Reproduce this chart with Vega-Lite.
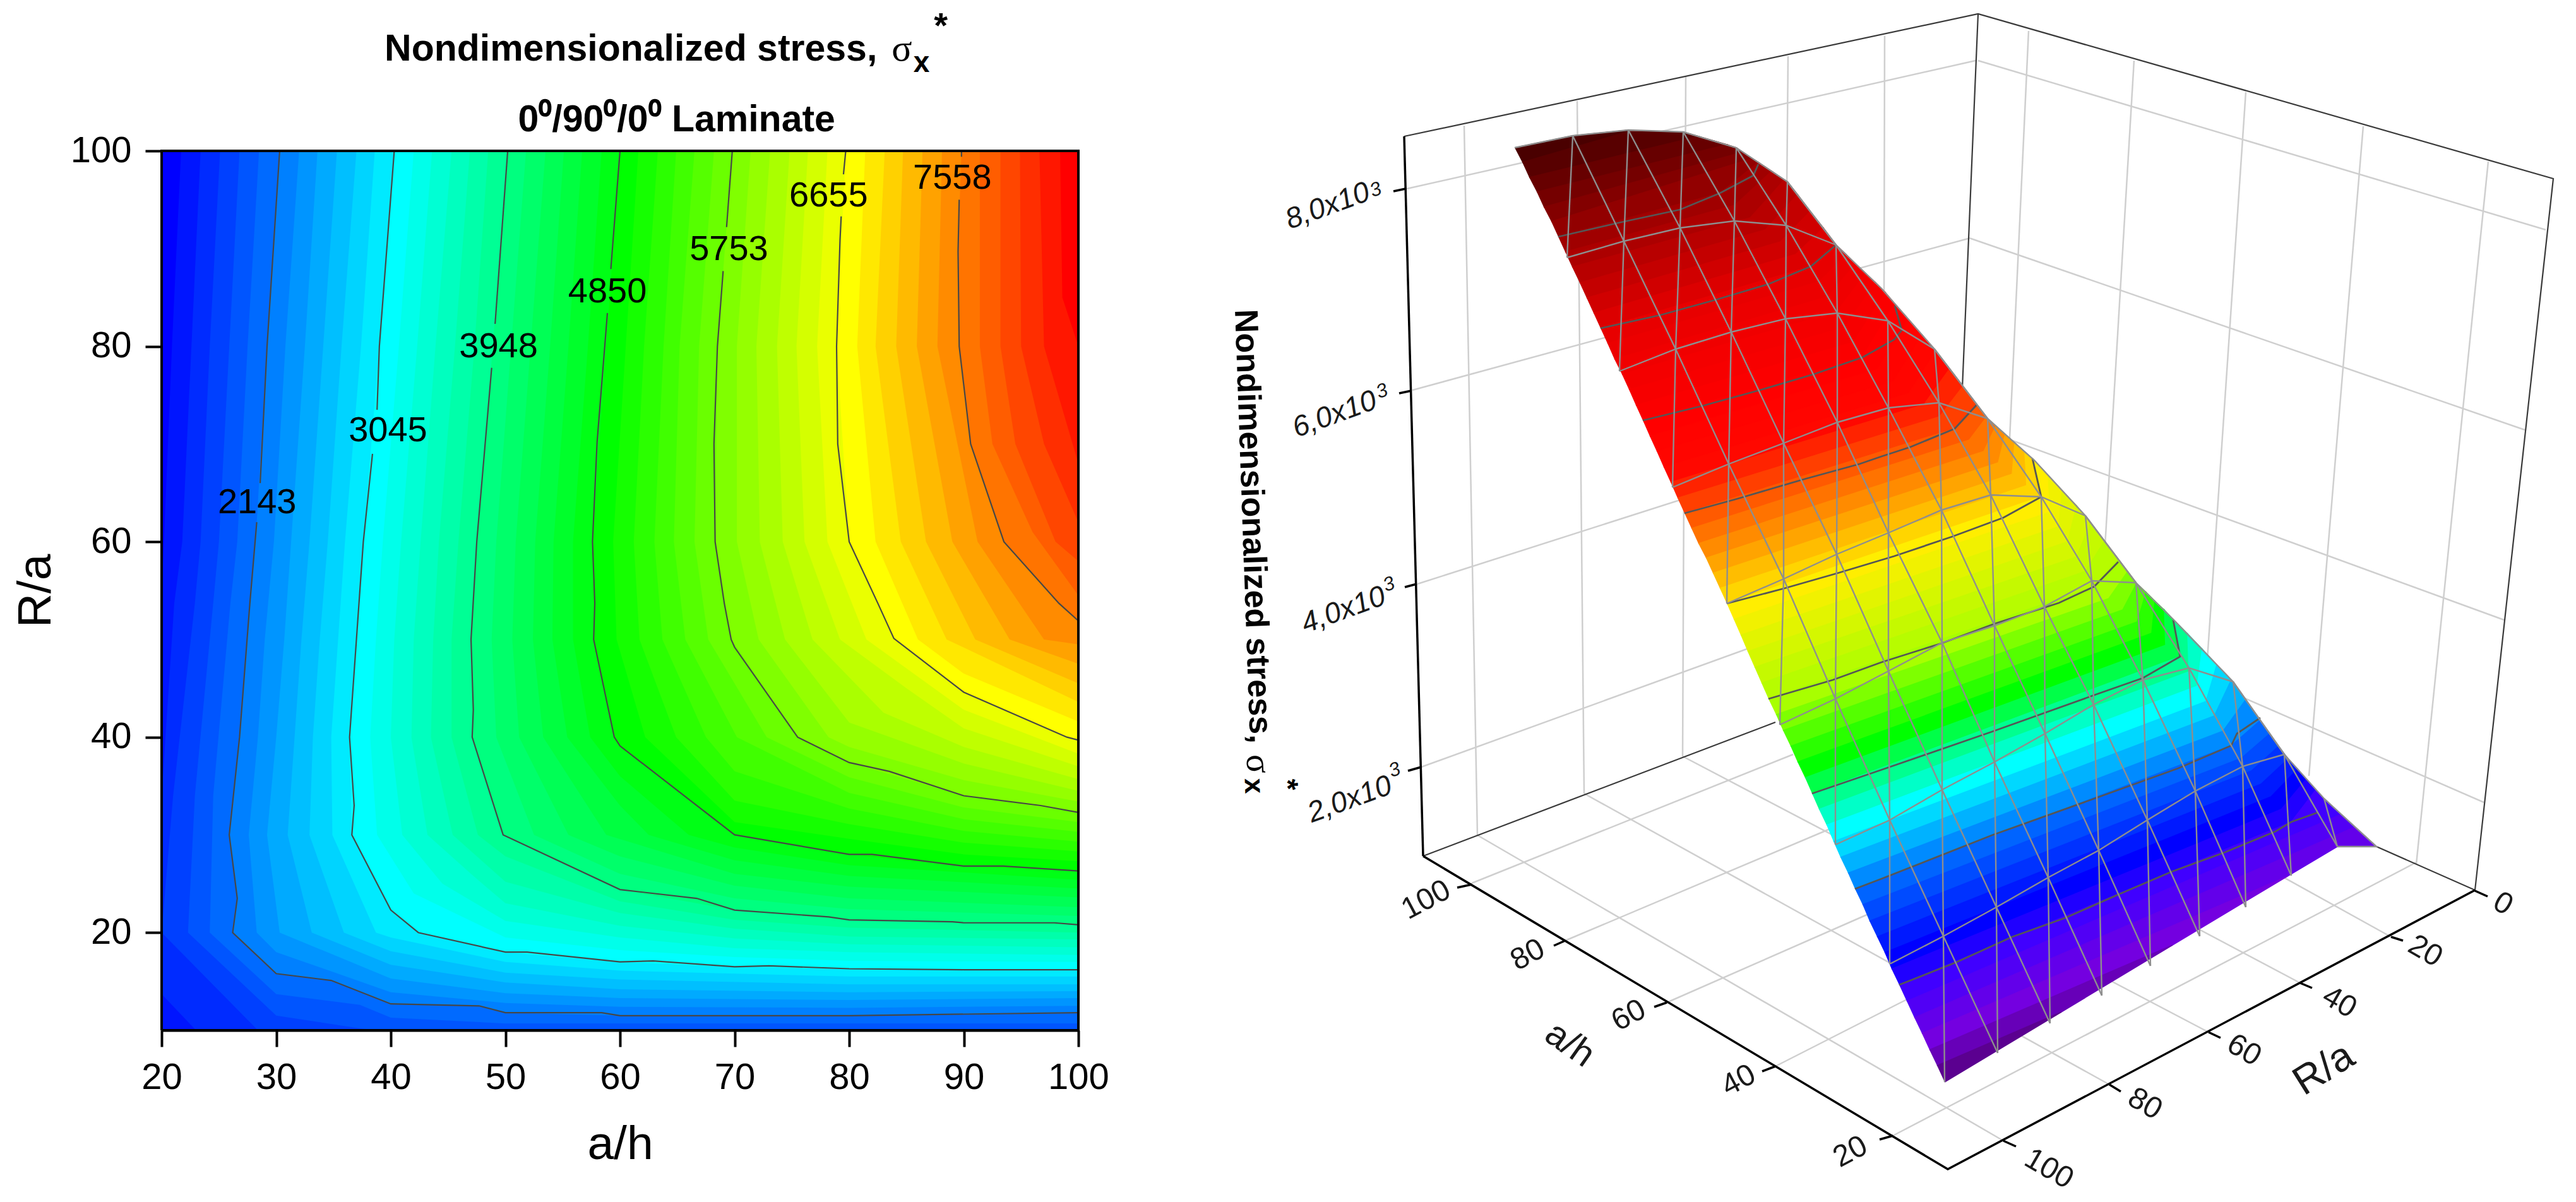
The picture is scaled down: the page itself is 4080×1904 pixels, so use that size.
{"$schema":"https://vega.github.io/schema/vega-lite/v6.json","background":"white","padding":{"left":19,"top":14,"right":0,"bottom":0},"spacing":43,"config":{"view":{"stroke":null},"font":"Liberation Sans"},
"resolve":{"scale":{"fill":"independent","stroke":"independent"}},
"datasets":{
"bands":[
{"l":1240,"a":20,"r":10},{"l":1240,"a":20,"r":100},{"l":1240,"a":100,"r":100},{"l":1240,"a":100,"r":10},
{"l":1390,"a":21.7,"r":100},{"l":1390,"a":20.9,"r":80},{"l":1390,"a":20.2,"r":60},{"l":1390,"a":20,"r":55},{"l":1390,"a":20,"r":10},{"l":1390,"a":100,"r":10},{"l":1390,"a":100,"r":100},
{"l":1541,"a":23.4,"r":100},{"l":1541,"a":22.6,"r":80},{"l":1541,"a":21.8,"r":60},{"l":1541,"a":21.1,"r":53.7},{"l":1541,"a":20,"r":34},{"l":1541,"a":20,"r":13.7},{"l":1541,"a":23,"r":10},{"l":1541,"a":100,"r":10},{"l":1541,"a":100,"r":100},
{"l":1691,"a":25.1,"r":100},{"l":1691,"a":24.2,"r":80},{"l":1691,"a":23.4,"r":60},{"l":1691,"a":22.9,"r":53.7},{"l":1691,"a":21,"r":34},{"l":1691,"a":20,"r":20},{"l":1691,"a":28.4,"r":10},{"l":1691,"a":100,"r":10},{"l":1691,"a":100,"r":100},
{"l":1842,"a":26.8,"r":100},{"l":1842,"a":25.9,"r":80},{"l":1842,"a":25,"r":60},{"l":1842,"a":24.5,"r":53.7},{"l":1842,"a":22.9,"r":34},{"l":1842,"a":22.3,"r":20},{"l":1842,"a":30,"r":11.5},{"l":1842,"a":37.3,"r":10.2},{"l":1842,"a":39,"r":10},{"l":1842,"a":100,"r":10},{"l":1842,"a":100,"r":100},
{"l":1992,"a":28.5,"r":100},{"l":1992,"a":27.5,"r":80},{"l":1992,"a":26.6,"r":60},{"l":1992,"a":26,"r":53.7},{"l":1992,"a":24.5,"r":34},{"l":1992,"a":24.2,"r":20},{"l":1992,"a":30,"r":13.7},{"l":1992,"a":37.3,"r":12.6},{"l":1992,"a":40,"r":11.3},{"l":1992,"a":50,"r":10.7},{"l":1992,"a":100,"r":10.7},{"l":1992,"a":100,"r":100},
{"l":2143,"a":30.3,"r":100},{"l":2143,"a":29.2,"r":80},{"l":2143,"a":28.2,"r":60},{"l":2143,"a":27.7,"r":53.7},{"l":2143,"a":26.8,"r":40},{"l":2143,"a":25.9,"r":30},{"l":2143,"a":26.6,"r":23.5},{"l":2143,"a":26.2,"r":20},{"l":2143,"a":30,"r":15.8},{"l":2143,"a":34.8,"r":15.1},{"l":2143,"a":40,"r":12.7},{"l":2143,"a":47.7,"r":12.5},{"l":2143,"a":50,"r":11.8},{"l":2143,"a":60,"r":11.5},{"l":2143,"a":80,"r":11.5},{"l":2143,"a":100,"r":11.8},{"l":2143,"a":100,"r":100},
{"l":2293,"a":32,"r":100},{"l":2293,"a":30.8,"r":80},{"l":2293,"a":29.8,"r":60},{"l":2293,"a":29,"r":50},{"l":2293,"a":28.4,"r":40},{"l":2293,"a":27.6,"r":30},{"l":2293,"a":28.3,"r":20},{"l":2293,"a":30,"r":18},{"l":2293,"a":40,"r":13.9},{"l":2293,"a":50,"r":12.8},{"l":2293,"a":60,"r":12.4},{"l":2293,"a":80,"r":12.3},{"l":2293,"a":100,"r":12.5},{"l":2293,"a":100,"r":100},
{"l":2443,"a":33.6,"r":100},{"l":2443,"a":32.5,"r":80},{"l":2443,"a":31.3,"r":60},{"l":2443,"a":30.7,"r":50},{"l":2443,"a":30,"r":40},{"l":2443,"a":29.2,"r":30},{"l":2443,"a":30.3,"r":20},{"l":2443,"a":40,"r":15.3},{"l":2443,"a":50,"r":13.8},{"l":2443,"a":60,"r":13.3},{"l":2443,"a":80,"r":13.1},{"l":2443,"a":100,"r":13.3},{"l":2443,"a":100,"r":100},
{"l":2594,"a":35.3,"r":100},{"l":2594,"a":34.1,"r":80},{"l":2594,"a":32.9,"r":60},{"l":2594,"a":32.2,"r":50},{"l":2594,"a":31.6,"r":40},{"l":2594,"a":31,"r":30},{"l":2594,"a":33.1,"r":20},{"l":2594,"a":40,"r":16.7},{"l":2594,"a":50,"r":14.9},{"l":2594,"a":60,"r":14.2},{"l":2594,"a":80,"r":13.9},{"l":2594,"a":100,"r":14},{"l":2594,"a":100,"r":100},
{"l":2744,"a":37,"r":100},{"l":2744,"a":35.7,"r":80},{"l":2744,"a":34.5,"r":60},{"l":2744,"a":33.8,"r":50},{"l":2744,"a":33.2,"r":40},{"l":2744,"a":32.9,"r":30},{"l":2744,"a":35.9,"r":20},{"l":2744,"a":40,"r":18.1},{"l":2744,"a":50,"r":15.9},{"l":2744,"a":60,"r":15.2},{"l":2744,"a":80,"r":14.7},{"l":2744,"a":100,"r":14.7},{"l":2744,"a":100,"r":100},
{"l":2895,"a":38.6,"r":100},{"l":2895,"a":37.4,"r":80},{"l":2895,"a":36,"r":60},{"l":2895,"a":35.4,"r":50},{"l":2895,"a":34.8,"r":40},{"l":2895,"a":34.9,"r":30},{"l":2895,"a":38.7,"r":20},{"l":2895,"a":40,"r":19.5},{"l":2895,"a":50,"r":17},{"l":2895,"a":60,"r":16.1},{"l":2895,"a":80,"r":15.5},{"l":2895,"a":100,"r":15.5},{"l":2895,"a":100,"r":100},
{"l":3045,"a":40.3,"r":100},{"l":3045,"a":39,"r":80},{"l":3045,"a":37.6,"r":60},{"l":3045,"a":37,"r":50},{"l":3045,"a":36.4,"r":40},{"l":3045,"a":36.6,"r":30},{"l":3045,"a":40,"r":22.3},{"l":3045,"a":42.4,"r":20},{"l":3045,"a":50,"r":18},{"l":3045,"a":60,"r":17},{"l":3045,"a":70,"r":16.5},{"l":3045,"a":80,"r":16.3},{"l":3045,"a":100,"r":16.2},{"l":3045,"a":100,"r":100},
{"l":3195,"a":42,"r":100},{"l":3195,"a":40.7,"r":80},{"l":3195,"a":39.3,"r":60},{"l":3195,"a":38.7,"r":50},{"l":3195,"a":38.2,"r":40},{"l":3195,"a":38.8,"r":30},{"l":3195,"a":42,"r":24},{"l":3195,"a":50,"r":19.5},{"l":3195,"a":60,"r":18.2},{"l":3195,"a":70,"r":17.5},{"l":3195,"a":80,"r":17.1},{"l":3195,"a":100,"r":17},{"l":3195,"a":100,"r":100},
{"l":3346,"a":43.6,"r":100},{"l":3346,"a":42.3,"r":80},{"l":3346,"a":40.9,"r":60},{"l":3346,"a":40.3,"r":50},{"l":3346,"a":40,"r":40},{"l":3346,"a":41,"r":30},{"l":3346,"a":44.5,"r":25},{"l":3346,"a":50,"r":21.2},{"l":3346,"a":60,"r":19.5},{"l":3346,"a":70,"r":18.4},{"l":3346,"a":80,"r":18},{"l":3346,"a":100,"r":17.7},{"l":3346,"a":100,"r":100},
{"l":3496,"a":45.3,"r":100},{"l":3496,"a":43.9,"r":80},{"l":3496,"a":42.6,"r":60},{"l":3496,"a":42,"r":50},{"l":3496,"a":41.8,"r":40},{"l":3496,"a":43.2,"r":30},{"l":3496,"a":47,"r":26},{"l":3496,"a":50,"r":23},{"l":3496,"a":60,"r":20.7},{"l":3496,"a":70,"r":19.4},{"l":3496,"a":80,"r":18.8},{"l":3496,"a":100,"r":18.5},{"l":3496,"a":100,"r":100},
{"l":3647,"a":46.9,"r":100},{"l":3647,"a":45.6,"r":80},{"l":3647,"a":44.2,"r":60},{"l":3647,"a":43.7,"r":50},{"l":3647,"a":43.5,"r":40},{"l":3647,"a":45.4,"r":30},{"l":3647,"a":50,"r":25.2},{"l":3647,"a":60,"r":22},{"l":3647,"a":70,"r":20.4},{"l":3647,"a":80,"r":19.6},{"l":3647,"a":100,"r":19.3},{"l":3647,"a":100,"r":100},
{"l":3797,"a":48.5,"r":100},{"l":3797,"a":47.3,"r":80},{"l":3797,"a":45.9,"r":60},{"l":3797,"a":45.3,"r":50},{"l":3797,"a":45.3,"r":40},{"l":3797,"a":47.6,"r":30},{"l":3797,"a":50,"r":27.8},{"l":3797,"a":60,"r":23.2},{"l":3797,"a":70,"r":21.3},{"l":3797,"a":80,"r":20.5},{"l":3797,"a":100,"r":20},{"l":3797,"a":100,"r":100},
{"l":3948,"a":50.2,"r":100},{"l":3948,"a":48.9,"r":80},{"l":3948,"a":47.5,"r":60},{"l":3948,"a":47,"r":50},{"l":3948,"a":47.1,"r":40},{"l":3948,"a":49.8,"r":30},{"l":3948,"a":60,"r":24.4},{"l":3948,"a":70,"r":22.3},{"l":3948,"a":80,"r":21.3},{"l":3948,"a":90,"r":21},{"l":3948,"a":100,"r":20.8},{"l":3948,"a":100,"r":100},
{"l":4098,"a":51.8,"r":100},{"l":4098,"a":50.5,"r":80},{"l":4098,"a":49.2,"r":60},{"l":4098,"a":48.8,"r":50},{"l":4098,"a":49.2,"r":40},{"l":4098,"a":52.5,"r":30},{"l":4098,"a":60,"r":26},{"l":4098,"a":70,"r":23.5},{"l":4098,"a":80,"r":22.4},{"l":4098,"a":100,"r":21.7},{"l":4098,"a":100,"r":100},
{"l":4248,"a":53.5,"r":100},{"l":4248,"a":52.2,"r":80},{"l":4248,"a":50.9,"r":60},{"l":4248,"a":50.6,"r":50},{"l":4248,"a":51.2,"r":40},{"l":4248,"a":55.5,"r":30},{"l":4248,"a":60,"r":27.8},{"l":4248,"a":70,"r":24.8},{"l":4248,"a":80,"r":23.5},{"l":4248,"a":100,"r":22.6},{"l":4248,"a":100,"r":100},
{"l":4399,"a":55.1,"r":100},{"l":4399,"a":53.9,"r":80},{"l":4399,"a":52.6,"r":60},{"l":4399,"a":52.4,"r":50},{"l":4399,"a":53.3,"r":40},{"l":4399,"a":58.8,"r":30},{"l":4399,"a":70,"r":26},{"l":4399,"a":80,"r":24.7},{"l":4399,"a":100,"r":23.6},{"l":4399,"a":100,"r":100},
{"l":4549,"a":56.7,"r":100},{"l":4549,"a":55.5,"r":80},{"l":4549,"a":54.2,"r":60},{"l":4549,"a":54.1,"r":50},{"l":4549,"a":55.4,"r":40},{"l":4549,"a":60,"r":33},{"l":4549,"a":62.5,"r":30},{"l":4549,"a":70,"r":27.4},{"l":4549,"a":80,"r":25.8},{"l":4549,"a":100,"r":24.5},{"l":4549,"a":100,"r":100},
{"l":4700,"a":58.4,"r":100},{"l":4700,"a":57.2,"r":80},{"l":4700,"a":55.9,"r":60},{"l":4700,"a":55.9,"r":50},{"l":4700,"a":57.4,"r":40},{"l":4700,"a":60,"r":36},{"l":4700,"a":66,"r":30},{"l":4700,"a":70,"r":28.7},{"l":4700,"a":80,"r":26.9},{"l":4700,"a":100,"r":25.4},{"l":4700,"a":100,"r":100},
{"l":4850,"a":60,"r":100},{"l":4850,"a":58.8,"r":80},{"l":4850,"a":57.6,"r":60},{"l":4850,"a":57.7,"r":50},{"l":4850,"a":59.5,"r":40},{"l":4850,"a":60,"r":39},{"l":4850,"a":70,"r":30},{"l":4850,"a":80,"r":28},{"l":4850,"a":90,"r":26.8},{"l":4850,"a":100,"r":26.3},{"l":4850,"a":100,"r":100},
{"l":5000,"a":61.6,"r":100},{"l":5000,"a":60.5,"r":80},{"l":5000,"a":59.4,"r":60},{"l":5000,"a":59.7,"r":50},{"l":5000,"a":62.2,"r":40},{"l":5000,"a":70,"r":31.3},{"l":5000,"a":80,"r":29.6},{"l":5000,"a":90,"r":28},{"l":5000,"a":100,"r":27.3},{"l":5000,"a":100,"r":100},
{"l":5151,"a":63.3,"r":100},{"l":5151,"a":62.1,"r":80},{"l":5151,"a":61.2,"r":60},{"l":5151,"a":61.7,"r":50},{"l":5151,"a":64.9,"r":40},{"l":5151,"a":70,"r":33.5},{"l":5151,"a":80,"r":31.1},{"l":5151,"a":90,"r":29.2},{"l":5151,"a":100,"r":28.3},{"l":5151,"a":100,"r":100},
{"l":5301,"a":64.9,"r":100},{"l":5301,"a":63.8,"r":80},{"l":5301,"a":63,"r":60},{"l":5301,"a":63.7,"r":50},{"l":5301,"a":67.5,"r":40},{"l":5301,"a":70,"r":36.5},{"l":5301,"a":80,"r":32.7},{"l":5301,"a":90,"r":30.4},{"l":5301,"a":100,"r":29.3},{"l":5301,"a":100,"r":100},
{"l":5452,"a":66.5,"r":100},{"l":5452,"a":65.2,"r":80},{"l":5452,"a":64.7,"r":60},{"l":5452,"a":65.7,"r":50},{"l":5452,"a":70.2,"r":40},{"l":5452,"a":80,"r":34.3},{"l":5452,"a":90,"r":31.6},{"l":5452,"a":100,"r":30.3},{"l":5452,"a":100,"r":100},
{"l":5602,"a":68.2,"r":100},{"l":5602,"a":66.9,"r":80},{"l":5602,"a":66.5,"r":60},{"l":5602,"a":67.7,"r":50},{"l":5602,"a":72.8,"r":40},{"l":5602,"a":80,"r":35.9},{"l":5602,"a":90,"r":32.8},{"l":5602,"a":100,"r":31.3},{"l":5602,"a":100,"r":100},
{"l":5753,"a":69.8,"r":100},{"l":5753,"a":68.5,"r":80},{"l":5753,"a":68.3,"r":60},{"l":5753,"a":69.7,"r":50},{"l":5753,"a":75.5,"r":40},{"l":5753,"a":80,"r":37.4},{"l":5753,"a":90,"r":34},{"l":5753,"a":100,"r":32.3},{"l":5753,"a":100,"r":100},
{"l":5903,"a":71.4,"r":100},{"l":5903,"a":70.2,"r":80},{"l":5903,"a":70.2,"r":60},{"l":5903,"a":72.1,"r":50},{"l":5903,"a":78.2,"r":40},{"l":5903,"a":80,"r":39},{"l":5903,"a":90,"r":35.6},{"l":5903,"a":100,"r":33.4},{"l":5903,"a":100,"r":100},
{"l":6053,"a":73.1,"r":100},{"l":6053,"a":71.9,"r":80},{"l":6053,"a":72.2,"r":60},{"l":6053,"a":74.4,"r":50},{"l":6053,"a":80,"r":41.5},{"l":6053,"a":90,"r":37.3},{"l":6053,"a":100,"r":34.5},{"l":6053,"a":100,"r":100},
{"l":6204,"a":74.8,"r":100},{"l":6204,"a":73.7,"r":80},{"l":6204,"a":74.2,"r":60},{"l":6204,"a":76.8,"r":50},{"l":6204,"a":83,"r":42.5},{"l":6204,"a":90,"r":39},{"l":6204,"a":100,"r":35.7},{"l":6204,"a":100,"r":100},
{"l":6354,"a":76.4,"r":100},{"l":6354,"a":75.4,"r":80},{"l":6354,"a":76.1,"r":60},{"l":6354,"a":79.2,"r":50},{"l":6354,"a":85,"r":45},{"l":6354,"a":90,"r":40.9},{"l":6354,"a":100,"r":37},{"l":6354,"a":100,"r":100},
{"l":6505,"a":78.1,"r":100},{"l":6505,"a":77.2,"r":80},{"l":6505,"a":78.1,"r":60},{"l":6505,"a":81.5,"r":50},{"l":6505,"a":90,"r":42.8},{"l":6505,"a":100,"r":38.3},{"l":6505,"a":100,"r":100},
{"l":6655,"a":79.7,"r":100},{"l":6655,"a":78.9,"r":80},{"l":6655,"a":80,"r":60},{"l":6655,"a":83.9,"r":50},{"l":6655,"a":90,"r":44.6},{"l":6655,"a":99,"r":40},{"l":6655,"a":100,"r":39.7},{"l":6655,"a":100,"r":100},
{"l":6805,"a":81.4,"r":100},{"l":6805,"a":80.7,"r":80},{"l":6805,"a":82.3,"r":60},{"l":6805,"a":86,"r":50},{"l":6805,"a":90,"r":46.5},{"l":6805,"a":100,"r":41.6},{"l":6805,"a":100,"r":100},
{"l":6956,"a":83.1,"r":100},{"l":6956,"a":82.3,"r":80},{"l":6956,"a":84.5,"r":60},{"l":6956,"a":88.5,"r":50},{"l":6956,"a":100,"r":43.6},{"l":6956,"a":100,"r":100},
{"l":7106,"a":84.7,"r":100},{"l":7106,"a":84.1,"r":80},{"l":7106,"a":86.7,"r":60},{"l":7106,"a":91,"r":50},{"l":7106,"a":100,"r":45.5},{"l":7106,"a":100,"r":100},
{"l":7257,"a":86.4,"r":100},{"l":7257,"a":85.9,"r":80},{"l":7257,"a":89,"r":60},{"l":7257,"a":94,"r":50},{"l":7257,"a":100,"r":47.5},{"l":7257,"a":100,"r":100},
{"l":7407,"a":88.1,"r":100},{"l":7407,"a":87.7,"r":80},{"l":7407,"a":91.2,"r":60},{"l":7407,"a":97,"r":50},{"l":7407,"a":100,"r":49.5},{"l":7407,"a":100,"r":100},
{"l":7558,"a":89.8,"r":100},{"l":7558,"a":89.5,"r":90},{"l":7558,"a":89.6,"r":80},{"l":7558,"a":90.6,"r":70},{"l":7558,"a":93.5,"r":60},{"l":7558,"a":98.3,"r":53.7},{"l":7558,"a":100,"r":51.9},{"l":7558,"a":100,"r":100},
{"l":7708,"a":91.4,"r":100},{"l":7708,"a":91.4,"r":80},{"l":7708,"a":92.5,"r":70},{"l":7708,"a":96,"r":61},{"l":7708,"a":100,"r":54.5},{"l":7708,"a":100,"r":100},
{"l":7858,"a":93.2,"r":100},{"l":7858,"a":93.2,"r":80},{"l":7858,"a":94.5,"r":70},{"l":7858,"a":98,"r":60},{"l":7858,"a":100,"r":58},{"l":7858,"a":100,"r":100},
{"l":8009,"a":94.9,"r":100},{"l":8009,"a":95,"r":80},{"l":8009,"a":97,"r":70},{"l":8009,"a":100,"r":62},{"l":8009,"a":100,"r":100},
{"l":8159,"a":96.6,"r":100},{"l":8159,"a":97,"r":80},{"l":8159,"a":99,"r":72},{"l":8159,"a":100,"r":68},{"l":8159,"a":100,"r":100},
{"l":8310,"a":98.4,"r":100},{"l":8310,"a":98.6,"r":85},{"l":8310,"a":100,"r":80},{"l":8310,"a":100,"r":100}
],
"contours":[
{"c":"2143a","a":30.3,"r":100},{"c":"2143a","a":29.2,"r":80},{"c":"2143a","a":28.6,"r":66},
{"c":"2143b","a":28.3,"r":62},{"c":"2143b","a":27.7,"r":53.7},{"c":"2143b","a":26.8,"r":40},{"c":"2143b","a":25.9,"r":30},{"c":"2143b","a":26.6,"r":23.5},{"c":"2143b","a":26.2,"r":20},{"c":"2143b","a":30,"r":15.8},{"c":"2143b","a":34.8,"r":15.1},{"c":"2143b","a":40,"r":12.7},{"c":"2143b","a":47.7,"r":12.5},{"c":"2143b","a":50,"r":11.8},{"c":"2143b","a":58.4,"r":11.8},{"c":"2143b","a":60,"r":11.5},{"c":"2143b","a":80,"r":11.5},{"c":"2143b","a":100,"r":11.8},
{"c":"3045a","a":40.3,"r":100},{"c":"3045a","a":39,"r":80},{"c":"3045a","a":38.8,"r":73.5},
{"c":"3045b","a":38.4,"r":69},{"c":"3045b","a":37.6,"r":60},{"c":"3045b","a":37,"r":50},{"c":"3045b","a":36.4,"r":40},{"c":"3045b","a":36.8,"r":33},{"c":"3045b","a":36.6,"r":30},{"c":"3045b","a":40,"r":22.3},{"c":"3045b","a":42.4,"r":20},{"c":"3045b","a":50,"r":18},{"c":"3045b","a":51.9,"r":18},{"c":"3045b","a":60,"r":17},{"c":"3045b","a":62.9,"r":17.1},{"c":"3045b","a":70,"r":16.5},{"c":"3045b","a":73,"r":16.6},{"c":"3045b","a":80,"r":16.3},{"c":"3045b","a":90,"r":16.2},{"c":"3045b","a":100,"r":16.2},
{"c":"3948a","a":50.2,"r":100},{"c":"3948a","a":49.1,"r":82.3},
{"c":"3948b","a":48.8,"r":77.8},{"c":"3948b","a":47.5,"r":60},{"c":"3948b","a":47,"r":50},{"c":"3948b","a":47.2,"r":42.8},{"c":"3948b","a":47.1,"r":40},{"c":"3948b","a":49.8,"r":30},{"c":"3948b","a":60,"r":24.4},{"c":"3948b","a":66.7,"r":23.5},{"c":"3948b","a":70,"r":22.3},{"c":"3948b","a":78.2,"r":21.6},{"c":"3948b","a":80,"r":21.3},{"c":"3948b","a":89,"r":21.1},{"c":"3948b","a":90,"r":21},{"c":"3948b","a":97.9,"r":21},{"c":"3948b","a":100,"r":20.8},
{"c":"4850a","a":60,"r":100},{"c":"4850a","a":59.2,"r":87.9},
{"c":"4850b","a":58.9,"r":83.4},{"c":"4850b","a":58,"r":70.2},{"c":"4850b","a":57.6,"r":60},{"c":"4850b","a":57.8,"r":53.7},{"c":"4850b","a":57.7,"r":50},{"c":"4850b","a":59.5,"r":40},{"c":"4850b","a":60,"r":39.1},{"c":"4850b","a":70,"r":30},{"c":"4850b","a":80,"r":28},{"c":"4850b","a":82,"r":28},{"c":"4850b","a":90,"r":26.8},{"c":"4850b","a":93.4,"r":26.8},{"c":"4850b","a":100,"r":26.3},
{"c":"5753a","a":69.8,"r":100},{"c":"5753a","a":69.3,"r":92.2},
{"c":"5753b","a":69,"r":87.7},{"c":"5753b","a":68.5,"r":80},{"c":"5753b","a":68.2,"r":70},{"c":"5753b","a":68.3,"r":60},{"c":"5753b","a":69.1,"r":53.7},{"c":"5753b","a":69.7,"r":50},{"c":"5753b","a":70,"r":49.2},{"c":"5753b","a":75.5,"r":40},{"c":"5753b","a":80,"r":37.4},{"c":"5753b","a":83.5,"r":36.5},{"c":"5753b","a":90,"r":34},{"c":"5753b","a":96.7,"r":33},{"c":"5753b","a":100,"r":32.3},
{"c":"6655a","a":79.7,"r":100},{"c":"6655a","a":79.5,"r":97.6},
{"c":"6655b","a":79.3,"r":93.3},{"c":"6655b","a":79.2,"r":90.9},{"c":"6655b","a":78.9,"r":80},{"c":"6655b","a":79,"r":70},{"c":"6655b","a":80,"r":60},{"c":"6655b","a":82.5,"r":53.7},{"c":"6655b","a":83.9,"r":50.1},{"c":"6655b","a":90,"r":44.6},{"c":"6655b","a":99,"r":40},{"c":"6655b","a":100,"r":39.7},
{"c":"7558a","a":89.8,"r":100},{"c":"7558a","a":89.8,"r":99.4},
{"c":"7558b","a":89.6,"r":95},{"c":"7558b","a":89.5,"r":89.7},{"c":"7558b","a":89.6,"r":80},{"c":"7558b","a":90.6,"r":70},{"c":"7558b","a":93.5,"r":60},{"c":"7558b","a":98.3,"r":53.7},{"c":"7558b","a":100,"r":51.9}
],
"frame":[{"a":20,"r":10},{"a":20,"r":100},{"a":100,"r":100},{"a":100,"r":10},{"a":20,"r":10}],
"contourLabels":[{"t":"2143","a":28.33,"r":64},{"t":"3045","a":39.75,"r":71.4},{"t":"3948","a":49.4,"r":80},{"t":"4850","a":58.9,"r":85.6},{"t":"5753","a":69.5,"r":89.9},{"t":"6655","a":78.2,"r":95.4},{"t":"7558","a":89,"r":97.2}],
"titles":[{"t":"Nondimensionalized stress,","a":39.45,"r":109.24},{"t":"0⁰/90⁰/0⁰ Laminate","a":51.1,"r":102},{"t":"x","a":85.6,"r":108.1}],
"surface":[
{"b":0,"u":2399,"v":229},{"b":0,"u":2491,"v":210},{"b":0,"u":2579,"v":201},{"b":0,"u":2580,"v":203},{"b":0,"u":2411,"v":252},
{"b":1,"u":2411,"v":252},{"b":1,"u":2580,"v":203},{"b":1,"u":2666,"v":204},{"b":1,"u":2690,"v":211},{"b":1,"u":2422,"v":276},
{"b":2,"u":2422,"v":276},{"b":2,"u":2690,"v":211},{"b":2,"u":2735,"v":224},{"b":2,"u":2434,"v":299},
{"b":3,"u":2434,"v":299},{"b":3,"u":2735,"v":224},{"b":3,"u":2750,"v":229},{"b":3,"u":2760,"v":236},{"b":3,"u":2445,"v":323},
{"b":4,"u":2445,"v":323},{"b":4,"u":2760,"v":236},{"b":4,"u":2775,"v":246},{"b":4,"u":2457,"v":346},
{"b":5,"u":2457,"v":346},{"b":5,"u":2775,"v":246},{"b":5,"u":2785,"v":252},{"b":5,"u":2724,"v":301},{"b":5,"u":2468,"v":370},
{"b":6,"u":2468,"v":370},{"b":6,"u":2724,"v":301},{"b":6,"u":2785,"v":252},{"b":6,"u":2806,"v":266},{"b":6,"u":2748,"v":320},{"b":6,"u":2479,"v":394},
{"b":7,"u":2479,"v":394},{"b":7,"u":2748,"v":320},{"b":7,"u":2806,"v":266},{"b":7,"u":2826,"v":280},{"b":7,"u":2772,"v":340},{"b":7,"u":2490,"v":418},
{"b":8,"u":2490,"v":418},{"b":8,"u":2772,"v":340},{"b":8,"u":2826,"v":280},{"b":8,"u":2831,"v":283},{"b":8,"u":2847,"v":303},{"b":8,"u":2796,"v":359},{"b":8,"u":2502,"v":443},
{"b":9,"u":2502,"v":443},{"b":9,"u":2796,"v":359},{"b":9,"u":2847,"v":303},{"b":9,"u":2867,"v":330},{"b":9,"u":2820,"v":378},{"b":9,"u":2513,"v":467},
{"b":10,"u":2513,"v":467},{"b":10,"u":2820,"v":378},{"b":10,"u":2867,"v":330},{"b":10,"u":2888,"v":356},{"b":10,"u":2844,"v":398},{"b":10,"u":2524,"v":491},
{"b":11,"u":2524,"v":491},{"b":11,"u":2844,"v":398},{"b":11,"u":2888,"v":356},{"b":11,"u":2908,"v":383},{"b":11,"u":2868,"v":417},{"b":11,"u":2535,"v":515},
{"b":12,"u":2535,"v":515},{"b":12,"u":2868,"v":417},{"b":12,"u":2908,"v":383},{"b":12,"u":2924,"v":398},{"b":12,"u":2882,"v":441},{"b":12,"u":2546,"v":539},
{"b":13,"u":2546,"v":539},{"b":13,"u":2882,"v":441},{"b":13,"u":2924,"v":398},{"b":13,"u":2939,"v":413},{"b":13,"u":2895,"v":465},{"b":13,"u":2557,"v":564},
{"b":14,"u":2557,"v":564},{"b":14,"u":2895,"v":465},{"b":14,"u":2939,"v":413},{"b":14,"u":2955,"v":428},{"b":14,"u":2909,"v":489},{"b":14,"u":2569,"v":588},
{"b":15,"u":2569,"v":588},{"b":15,"u":2909,"v":489},{"b":15,"u":2955,"v":428},{"b":15,"u":2970,"v":442},{"b":15,"u":2923,"v":513},{"b":15,"u":2580,"v":612},
{"b":16,"u":2580,"v":612},{"b":16,"u":2923,"v":513},{"b":16,"u":2970,"v":442},{"b":16,"u":2986,"v":458},{"b":16,"u":2936,"v":537},{"b":16,"u":2591,"v":637},
{"b":17,"u":2591,"v":637},{"b":17,"u":2936,"v":537},{"b":17,"u":2986,"v":458},{"b":17,"u":3001,"v":476},{"b":17,"u":2950,"v":561},{"b":17,"u":2602,"v":661},
{"b":18,"u":2602,"v":661},{"b":18,"u":2950,"v":561},{"b":18,"u":3001,"v":476},{"b":18,"u":3023,"v":501},{"b":18,"u":2974,"v":580},{"b":18,"u":2613,"v":686},
{"b":19,"u":2613,"v":686},{"b":19,"u":2974,"v":580},{"b":19,"u":3023,"v":501},{"b":19,"u":3044,"v":525},{"b":19,"u":2999,"v":599},{"b":19,"u":2624,"v":710},
{"b":20,"u":2624,"v":710},{"b":20,"u":2999,"v":599},{"b":20,"u":3044,"v":525},{"b":20,"u":3066,"v":551},{"b":20,"u":3023,"v":618},{"b":20,"u":2635,"v":735},
{"b":21,"u":2635,"v":735},{"b":21,"u":3023,"v":618},{"b":21,"u":3066,"v":551},{"b":21,"u":3088,"v":579},{"b":21,"u":3047,"v":636},{"b":21,"u":2646,"v":759},
{"b":22,"u":2646,"v":759},{"b":22,"u":3047,"v":636},{"b":22,"u":3088,"v":579},{"b":22,"u":3109,"v":607},{"b":22,"u":3072,"v":655},{"b":22,"u":2657,"v":784},
{"b":23,"u":2657,"v":784},{"b":23,"u":3072,"v":655},{"b":23,"u":3109,"v":607},{"b":23,"u":3131,"v":636},{"b":23,"u":3096,"v":674},{"b":23,"u":2668,"v":808},
{"b":24,"u":2668,"v":808},{"b":24,"u":3096,"v":674},{"b":24,"u":3131,"v":636},{"b":24,"u":3146,"v":656},{"b":24,"u":3119,"v":692},{"b":24,"u":2679,"v":832},
{"b":25,"u":2679,"v":832},{"b":25,"u":3119,"v":692},{"b":25,"u":3146,"v":656},{"b":25,"u":3161,"v":670},{"b":25,"u":3142,"v":710},{"b":25,"u":2690,"v":856},
{"b":26,"u":2690,"v":856},{"b":26,"u":3142,"v":710},{"b":26,"u":3161,"v":670},{"b":26,"u":3176,"v":683},{"b":26,"u":3165,"v":728},{"b":26,"u":2702,"v":879},
{"b":27,"u":2702,"v":879},{"b":27,"u":3165,"v":728},{"b":27,"u":3176,"v":683},{"b":27,"u":3191,"v":697},{"b":27,"u":3187,"v":746},{"b":27,"u":2713,"v":903},
{"b":28,"u":2713,"v":903},{"b":28,"u":3187,"v":746},{"b":28,"u":3191,"v":697},{"b":28,"u":3207,"v":711},{"b":28,"u":3210,"v":764},{"b":28,"u":2724,"v":927},
{"b":29,"u":2724,"v":927},{"b":29,"u":3210,"v":764},{"b":29,"u":3207,"v":711},{"b":29,"u":3222,"v":724},{"b":29,"u":3233,"v":782},{"b":29,"u":2735,"v":951},
{"b":30,"u":2735,"v":951},{"b":30,"u":3233,"v":782},{"b":30,"u":3222,"v":724},{"b":30,"u":3244,"v":748},{"b":30,"u":3247,"v":806},{"b":30,"u":2746,"v":976},
{"b":31,"u":2746,"v":976},{"b":31,"u":3247,"v":806},{"b":31,"u":3244,"v":748},{"b":31,"u":3266,"v":772},{"b":31,"u":3261,"v":829},{"b":31,"u":2757,"v":1001},
{"b":32,"u":2757,"v":1001},{"b":32,"u":3261,"v":829},{"b":32,"u":3266,"v":772},{"b":32,"u":3289,"v":796},{"b":32,"u":3275,"v":853},{"b":32,"u":2768,"v":1027},
{"b":33,"u":2768,"v":1027},{"b":33,"u":3275,"v":853},{"b":33,"u":3289,"v":796},{"b":33,"u":3311,"v":823},{"b":33,"u":3289,"v":877},{"b":33,"u":2779,"v":1052},
{"b":34,"u":2779,"v":1052},{"b":34,"u":3289,"v":877},{"b":34,"u":3311,"v":823},{"b":34,"u":3333,"v":852},{"b":34,"u":3303,"v":900},{"b":34,"u":2790,"v":1077},
{"b":35,"u":2790,"v":1077},{"b":35,"u":3303,"v":900},{"b":35,"u":3333,"v":852},{"b":35,"u":3355,"v":881},{"b":35,"u":3317,"v":924},{"b":35,"u":2801,"v":1102},
{"b":36,"u":2801,"v":1102},{"b":36,"u":3317,"v":924},{"b":36,"u":3355,"v":881},{"b":36,"u":3370,"v":900},{"b":36,"u":3340,"v":943},{"b":36,"u":2813,"v":1127},
{"b":37,"u":2813,"v":1127},{"b":37,"u":3340,"v":943},{"b":37,"u":3370,"v":900},{"b":37,"u":3384,"v":919},{"b":37,"u":3362,"v":961},{"b":37,"u":2824,"v":1152},
{"b":38,"u":2824,"v":1152},{"b":38,"u":3362,"v":961},{"b":38,"u":3384,"v":919},{"b":38,"u":3399,"v":933},{"b":38,"u":3385,"v":980},{"b":38,"u":2836,"v":1177},
{"b":39,"u":2836,"v":1177},{"b":39,"u":3385,"v":980},{"b":39,"u":3399,"v":933},{"b":39,"u":3413,"v":947},{"b":39,"u":3408,"v":998},{"b":39,"u":2847,"v":1202},
{"b":40,"u":2847,"v":1202},{"b":40,"u":3408,"v":998},{"b":40,"u":3413,"v":947},{"b":40,"u":3428,"v":961},{"b":40,"u":3430,"v":1017},{"b":40,"u":2859,"v":1227},
{"b":41,"u":2859,"v":1227},{"b":41,"u":3430,"v":1017},{"b":41,"u":3428,"v":961},{"b":41,"u":3442,"v":976},{"b":41,"u":3453,"v":1035},{"b":41,"u":2870,"v":1252},
{"b":42,"u":2870,"v":1252},{"b":42,"u":3453,"v":1035},{"b":42,"u":3442,"v":976},{"b":42,"u":3465,"v":999},{"b":42,"u":3467,"v":1059},{"b":42,"u":2881,"v":1277},
{"b":43,"u":2881,"v":1277},{"b":43,"u":3467,"v":1059},{"b":43,"u":3465,"v":999},{"b":43,"u":3488,"v":1023},{"b":43,"u":3480,"v":1082},{"b":43,"u":2893,"v":1302},
{"b":44,"u":2893,"v":1302},{"b":44,"u":3480,"v":1082},{"b":44,"u":3488,"v":1023},{"b":44,"u":3511,"v":1048},{"b":44,"u":3494,"v":1106},{"b":44,"u":2904,"v":1328},
{"b":45,"u":2904,"v":1328},{"b":45,"u":3494,"v":1106},{"b":45,"u":3511,"v":1048},{"b":45,"u":3534,"v":1072},{"b":45,"u":3507,"v":1129},{"b":45,"u":2915,"v":1353},
{"b":46,"u":2915,"v":1353},{"b":46,"u":3507,"v":1129},{"b":46,"u":3534,"v":1072},{"b":46,"u":3557,"v":1103},{"b":46,"u":3521,"v":1153},{"b":46,"u":2927,"v":1378},
{"b":47,"u":2927,"v":1378},{"b":47,"u":3521,"v":1153},{"b":47,"u":3557,"v":1103},{"b":47,"u":3580,"v":1136},{"b":47,"u":3534,"v":1176},{"b":47,"u":2938,"v":1403},
{"b":48,"u":2938,"v":1403},{"b":48,"u":3534,"v":1176},{"b":48,"u":3580,"v":1136},{"b":48,"u":3595,"v":1157},{"b":48,"u":3550,"v":1196},{"b":48,"u":2950,"v":1428},
{"b":49,"u":2950,"v":1428},{"b":49,"u":3550,"v":1196},{"b":49,"u":3595,"v":1157},{"b":49,"u":3609,"v":1177},{"b":49,"u":3566,"v":1216},{"b":49,"u":2961,"v":1454},
{"b":50,"u":2961,"v":1454},{"b":50,"u":3566,"v":1216},{"b":50,"u":3609,"v":1177},{"b":50,"u":3624,"v":1197},{"b":50,"u":3581,"v":1237},{"b":50,"u":2973,"v":1479},
{"b":51,"u":2973,"v":1479},{"b":51,"u":3581,"v":1237},{"b":51,"u":3624,"v":1197},{"b":51,"u":3639,"v":1213},{"b":51,"u":3597,"v":1257},{"b":51,"u":2985,"v":1504},
{"b":52,"u":2985,"v":1504},{"b":52,"u":3597,"v":1257},{"b":52,"u":3639,"v":1213},{"b":52,"u":3653,"v":1229},{"b":52,"u":3613,"v":1277},{"b":52,"u":2996,"v":1530},
{"b":53,"u":2996,"v":1530},{"b":53,"u":3613,"v":1277},{"b":53,"u":3653,"v":1229},{"b":53,"u":3668,"v":1246},{"b":53,"u":3629,"v":1297},{"b":53,"u":3008,"v":1555},
{"b":54,"u":3008,"v":1555},{"b":54,"u":3629,"v":1297},{"b":54,"u":3668,"v":1246},{"b":54,"u":3681,"v":1260},{"b":54,"u":3708,"v":1285},{"b":54,"u":3020,"v":1581},
{"b":55,"u":3020,"v":1581},{"b":55,"u":3708,"v":1285},{"b":55,"u":3730,"v":1305},{"b":55,"u":3032,"v":1607},
{"b":56,"u":3032,"v":1607},{"b":56,"u":3730,"v":1305},{"b":56,"u":3764,"v":1336},{"b":56,"u":3702,"v":1336},{"b":56,"u":3623,"v":1383},{"b":56,"u":3044,"v":1632},
{"b":57,"u":3044,"v":1632},{"b":57,"u":3623,"v":1383},{"b":57,"u":3441,"v":1492},{"b":57,"u":3056,"v":1658},
{"b":58,"u":3056,"v":1658},{"b":58,"u":3441,"v":1492},{"b":58,"u":3265,"v":1598},{"b":58,"u":3068,"v":1683},
{"b":59,"u":3068,"v":1683},{"b":59,"u":3265,"v":1598},{"b":59,"u":3080,"v":1709}
],
"grid":[
{"g":"z8l","u":2228,"v":294},{"g":"z8l","u":3129,"v":91},{"g":"z6l","u":2237,"v":613},{"g":"z6l","u":3117,"v":373},{"g":"z4l","u":2245,"v":920},{"g":"z4l","u":3108,"v":644},{"g":"z2l","u":2251,"v":1210},{"g":"z2l","u":2830,"v":1000},
{"g":"vl1","u":2319,"v":194},{"g":"vl1","u":2340,"v":1318},{"g":"vl2","u":2498,"v":155},{"g":"vl2","u":2509,"v":1252},{"g":"vl3","u":2670,"v":115},{"g":"vl3","u":2665,"v":1193},{"g":"vl4","u":2832,"v":84},{"g":"vl4","u":2830,"v":300},{"g":"vl5","u":2985,"v":52},{"g":"vl5","u":2984,"v":470},
{"g":"vr1","u":3213,"v":44},{"g":"vr1","u":3183,"v":690},{"g":"vr2","u":3380,"v":91},{"g":"vr2","u":3334,"v":860},{"g":"vr3","u":3557,"v":141},{"g":"vr3","u":3496,"v":1040},{"g":"vr4","u":3743,"v":195},{"g":"vr4","u":3657,"v":1224},{"g":"vr5","u":3941,"v":251},{"g":"vr5","u":3827,"v":1364},
{"g":"zr8","u":3133,"v":91},{"g":"zr8","u":4032,"v":359},{"g":"zr6","u":3119,"v":372},{"g":"zr6","u":3999,"v":676},{"g":"zr4","u":3152,"v":680},{"g":"zr4","u":3966,"v":977},{"g":"zr2","u":3530,"v":1090},{"g":"zr2","u":3934,"v":1266},
{"g":"fa1","u":2331,"v":1394},{"g":"fa1","u":2840,"v":1190},{"g":"fa2","u":2479,"v":1485},{"g":"fa2","u":2896,"v":1309},{"g":"fa3","u":2640,"v":1583},{"g":"fa3","u":2959,"v":1443},{"g":"fa4","u":2812,"v":1684},{"g":"fa4","u":3040,"v":1568},{"g":"fa5","u":2998,"v":1794},{"g":"fa5","u":3827,"v":1361},
{"g":"fr1","u":3173,"v":1802},{"g":"fr1","u":2340,"v":1318},{"g":"fr2","u":3341,"v":1713},{"g":"fr2","u":2509,"v":1252},{"g":"fr3","u":3498,"v":1630},{"g":"fr3","u":2665,"v":1193},{"g":"fr4","u":3643,"v":1552},{"g":"fr4","u":3300,"v":1370},{"g":"fr5","u":3787,"v":1479},{"g":"fr5","u":3500,"v":1320}
],
"box":[
{"g":"top","u":2224,"v":211},{"g":"top","u":3133,"v":17},{"g":"top","u":4044,"v":278},{"g":"top","u":3920,"v":1405},{"g":"top","u":3764,"v":1336},
{"g":"back","u":3133,"v":17},{"g":"back","u":3108,"v":610},
{"g":"floor","u":2254,"v":1351},{"g":"floor","u":2812,"v":1139}
],
"axes":[
{"g":"z","u":2224,"v":211},{"g":"z","u":2254,"v":1351},
{"g":"a","u":2254,"v":1351},{"g":"a","u":3085,"v":1847},{"g":"a","u":3920,"v":1405},
{"g":"tz8","u":2207,"v":298},{"g":"tz8","u":2226,"v":294},{"g":"tz6","u":2216,"v":618},{"g":"tz6","u":2235,"v":614},{"g":"tz4","u":2225,"v":925},{"g":"tz4","u":2244,"v":920},{"g":"tz2","u":2230,"v":1216},{"g":"tz2","u":2251,"v":1210},
{"g":"ta1","u":2331,"v":1396},{"g":"ta1","u":2308,"v":1401},{"g":"ta2","u":2479,"v":1485},{"g":"ta2","u":2461,"v":1493},{"g":"ta3","u":2640,"v":1583},{"g":"ta3","u":2620,"v":1590},{"g":"ta4","u":2812,"v":1684},{"g":"ta4","u":2791,"v":1692},{"g":"ta5","u":2998,"v":1794},{"g":"ta5","u":2977,"v":1800},
{"g":"tr0","u":3920,"v":1406},{"g":"tr0","u":3940,"v":1415},{"g":"tr2","u":3787,"v":1479},{"g":"tr2","u":3806,"v":1485},{"g":"tr4","u":3643,"v":1552},{"g":"tr4","u":3662,"v":1560},{"g":"tr6","u":3498,"v":1630},{"g":"tr6","u":3517,"v":1639},{"g":"tr8","u":3341,"v":1713},{"g":"tr8","u":3359,"v":1724},{"g":"tr10","u":3173,"v":1802},{"g":"tr10","u":3193,"v":1811}
],
"mesh":[
{"m":"outline","u":2399,"v":229},{"m":"outline","u":2491,"v":210},{"m":"outline","u":2579,"v":201},{"m":"outline","u":2666,"v":204},{"m":"outline","u":2750,"v":229},{"m":"outline","u":2831,"v":283},{"m":"outline","u":2908,"v":383},{"m":"outline","u":2980,"v":452},{"m":"outline","u":3064,"v":548},{"m":"outline","u":3148,"v":658},{"m":"outline","u":3222,"v":724},{"m":"outline","u":3303,"v":812},{"m":"outline","u":3383,"v":918},{"m":"outline","u":3443,"v":977},{"m":"outline","u":3537,"v":1075},{"m":"outline","u":3618,"v":1190},{"m":"outline","u":3681,"v":1260},{"m":"outline","u":3764,"v":1336},{"m":"outline","u":3702,"v":1336},
{"m":"r90","u":2482,"v":403},{"m":"r90","u":2572,"v":377},{"m":"r90","u":2661,"v":356},{"m":"r90","u":2747,"v":345},{"m":"r90","u":2829,"v":352},{"m":"r90","u":2908,"v":383},
{"m":"r80","u":2565,"v":583},{"m":"r80","u":2654,"v":548},{"m":"r80","u":2742,"v":521},{"m":"r80","u":2828,"v":500},{"m":"r80","u":2910,"v":491},{"m":"r80","u":2990,"v":503},{"m":"r80","u":3064,"v":548},
{"m":"r70","u":2649,"v":767},{"m":"r70","u":2738,"v":730},{"m":"r70","u":2825,"v":697},{"m":"r70","u":2910,"v":664},{"m":"r70","u":2991,"v":641},{"m":"r70","u":3071,"v":633},{"m":"r70","u":3148,"v":658},
{"m":"r60","u":2735,"v":951},{"m":"r60","u":2825,"v":912},{"m":"r60","u":2909,"v":873},{"m":"r60","u":2991,"v":839},{"m":"r60","u":3075,"v":803},{"m":"r60","u":3153,"v":779},{"m":"r60","u":3233,"v":782},{"m":"r60","u":3303,"v":812},
{"m":"r50","u":2819,"v":1143},{"m":"r50","u":2907,"v":1102},{"m":"r50","u":2991,"v":1058},{"m":"r50","u":3076,"v":1013},{"m":"r50","u":3159,"v":986},{"m":"r50","u":3238,"v":956},{"m":"r50","u":3313,"v":915},{"m":"r50","u":3383,"v":918},
{"m":"r40","u":2907,"v":1333},{"m":"r40","u":2993,"v":1294},{"m":"r40","u":3076,"v":1246},{"m":"r40","u":3159,"v":1202},{"m":"r40","u":3239,"v":1157},{"m":"r40","u":3316,"v":1111},{"m":"r40","u":3394,"v":1072},{"m":"r40","u":3467,"v":1053},{"m":"r40","u":3537,"v":1075},
{"m":"r30","u":2993,"v":1522},{"m":"r30","u":3078,"v":1478},{"m":"r30","u":3162,"v":1432},{"m":"r30","u":3244,"v":1385},{"m":"r30","u":3324,"v":1342},{"m":"r30","u":3401,"v":1294},{"m":"r30","u":3477,"v":1248},{"m":"r30","u":3552,"v":1209},{"m":"r30","u":3618,"v":1190},
{"m":"c1","u":2491,"v":210},{"m":"c1","u":2572,"v":377},{"m":"c1","u":2654,"v":548},{"m":"c1","u":2738,"v":730},{"m":"c1","u":2825,"v":912},{"m":"c1","u":2907,"v":1102},{"m":"c1","u":2993,"v":1294},{"m":"c1","u":3078,"v":1478},{"m":"c1","u":3164,"v":1663},
{"m":"c2","u":2579,"v":201},{"m":"c2","u":2661,"v":356},{"m":"c2","u":2742,"v":521},{"m":"c2","u":2825,"v":697},{"m":"c2","u":2909,"v":873},{"m":"c2","u":2991,"v":1058},{"m":"c2","u":3076,"v":1246},{"m":"c2","u":3162,"v":1432},{"m":"c2","u":3247,"v":1616},
{"m":"c3","u":2666,"v":204},{"m":"c3","u":2747,"v":345},{"m":"c3","u":2828,"v":500},{"m":"c3","u":2910,"v":664},{"m":"c3","u":2991,"v":839},{"m":"c3","u":3076,"v":1013},{"m":"c3","u":3159,"v":1202},{"m":"c3","u":3244,"v":1385},{"m":"c3","u":3329,"v":1572},
{"m":"c4","u":2750,"v":229},{"m":"c4","u":2829,"v":352},{"m":"c4","u":2910,"v":491},{"m":"c4","u":2991,"v":641},{"m":"c4","u":3075,"v":803},{"m":"c4","u":3159,"v":986},{"m":"c4","u":3239,"v":1157},{"m":"c4","u":3324,"v":1342},{"m":"c4","u":3406,"v":1525},
{"m":"c5","u":2831,"v":283},{"m":"c5","u":2908,"v":383},{"m":"c5","u":2990,"v":503},{"m":"c5","u":3071,"v":633},{"m":"c5","u":3153,"v":779},{"m":"c5","u":3238,"v":956},{"m":"c5","u":3316,"v":1111},{"m":"c5","u":3401,"v":1294},{"m":"c5","u":3484,"v":1478},
{"m":"c6","u":3064,"v":548},{"m":"c6","u":3148,"v":658},{"m":"c6","u":3233,"v":782},{"m":"c6","u":3313,"v":915},{"m":"c6","u":3394,"v":1072},{"m":"c6","u":3477,"v":1248},{"m":"c6","u":3557,"v":1432},
{"m":"c7","u":3303,"v":812},{"m":"c7","u":3383,"v":918},{"m":"c7","u":3467,"v":1053},{"m":"c7","u":3552,"v":1209},{"m":"c7","u":3629,"v":1382},
{"m":"c8","u":3537,"v":1075},{"m":"c8","u":3618,"v":1190},{"m":"c8","u":3702,"v":1336},
{"m":"v2","u":2491,"v":210},{"m":"v2","u":2482,"v":403},
{"m":"v3","u":2579,"v":201},{"m":"v3","u":2572,"v":377},{"m":"v3","u":2565,"v":583},
{"m":"v4","u":2666,"v":204},{"m":"v4","u":2661,"v":356},{"m":"v4","u":2654,"v":548},{"m":"v4","u":2649,"v":767},
{"m":"v5","u":2750,"v":229},{"m":"v5","u":2747,"v":345},{"m":"v5","u":2742,"v":521},{"m":"v5","u":2738,"v":730},{"m":"v5","u":2735,"v":951},
{"m":"v6","u":2831,"v":283},{"m":"v6","u":2829,"v":352},{"m":"v6","u":2828,"v":500},{"m":"v6","u":2825,"v":697},{"m":"v6","u":2825,"v":912},{"m":"v6","u":2819,"v":1143},
{"m":"v7","u":2908,"v":383},{"m":"v7","u":2910,"v":491},{"m":"v7","u":2910,"v":664},{"m":"v7","u":2909,"v":873},{"m":"v7","u":2907,"v":1102},{"m":"v7","u":2907,"v":1333},
{"m":"v8","u":2990,"v":503},{"m":"v8","u":2991,"v":641},{"m":"v8","u":2991,"v":839},{"m":"v8","u":2991,"v":1058},{"m":"v8","u":2993,"v":1294},{"m":"v8","u":2993,"v":1522},
{"m":"v9","u":3064,"v":548},{"m":"v9","u":3071,"v":633},{"m":"v9","u":3075,"v":803},{"m":"v9","u":3076,"v":1013},{"m":"v9","u":3076,"v":1246},{"m":"v9","u":3078,"v":1478},{"m":"v9","u":3080,"v":1709},
{"m":"v10","u":3148,"v":658},{"m":"v10","u":3153,"v":779},{"m":"v10","u":3159,"v":986},{"m":"v10","u":3159,"v":1202},{"m":"v10","u":3162,"v":1432},{"m":"v10","u":3164,"v":1663},
{"m":"v11","u":3233,"v":782},{"m":"v11","u":3238,"v":956},{"m":"v11","u":3239,"v":1157},{"m":"v11","u":3244,"v":1385},{"m":"v11","u":3247,"v":1616},
{"m":"v12","u":3303,"v":812},{"m":"v12","u":3313,"v":915},{"m":"v12","u":3316,"v":1111},{"m":"v12","u":3324,"v":1342},{"m":"v12","u":3329,"v":1572},
{"m":"v13","u":3383,"v":918},{"m":"v13","u":3394,"v":1072},{"m":"v13","u":3401,"v":1294},{"m":"v13","u":3406,"v":1525},
{"m":"v14","u":3467,"v":1053},{"m":"v14","u":3477,"v":1248},{"m":"v14","u":3484,"v":1478},
{"m":"v15","u":3537,"v":1075},{"m":"v15","u":3552,"v":1209},{"m":"v15","u":3557,"v":1432},
{"m":"v16","u":3618,"v":1190},{"m":"v16","u":3629,"v":1382},
{"m":"v17","u":3681,"v":1260},{"m":"v17","u":3702,"v":1336}
],
"surfaceContours":[
{"d":"1","u":2468,"v":370},{"d":"1","u":2563,"v":348},{"d":"1","u":2661,"v":327},{"d":"1","u":2724,"v":301},{"d":"1","u":2777,"v":273},{"d":"1","u":2785,"v":255},
{"d":"2","u":2535,"v":515},{"d":"2","u":2630,"v":494},{"d":"2","u":2717,"v":470},{"d":"2","u":2801,"v":445},{"d":"2","u":2868,"v":417},{"d":"2","u":2908,"v":383},
{"d":"3","u":2602,"v":661},{"d":"3","u":2696,"v":638},{"d":"3","u":2787,"v":613},{"d":"3","u":2872,"v":588},{"d":"3","u":2950,"v":561},{"d":"3","u":3000,"v":533},{"d":"3","u":3012,"v":518},{"d":"3","u":3001,"v":479},
{"d":"4","u":2668,"v":808},{"d":"4","u":2752,"v":785},{"d":"4","u":2854,"v":755},{"d":"4","u":2945,"v":730},{"d":"4","u":2980,"v":718},{"d":"4","u":3026,"v":703},{"d":"4","u":3096,"v":674},{"d":"4","u":3131,"v":636},
{"d":"5","u":2735,"v":951},{"d":"5","u":2826,"v":927},{"d":"5","u":2910,"v":903},{"d":"5","u":3000,"v":876},{"d":"5","u":3092,"v":845},{"d":"5","u":3173,"v":815},{"d":"5","u":3233,"v":782},{"d":"5","u":3219,"v":721},
{"d":"6","u":2801,"v":1102},{"d":"6","u":2903,"v":1072},{"d":"6","u":2980,"v":1044},{"d":"6","u":3075,"v":1014},{"d":"6","u":3159,"v":983},{"d":"6","u":3261,"v":950},{"d":"6","u":3317,"v":924},{"d":"6","u":3355,"v":885},
{"d":"7","u":2870,"v":1252},{"d":"7","u":2987,"v":1212},{"d":"7","u":3155,"v":1154},{"d":"7","u":3317,"v":1096},{"d":"7","u":3394,"v":1069},{"d":"7","u":3453,"v":1035},{"d":"7","u":3442,"v":977},
{"d":"8","u":2938,"v":1403},{"d":"8","u":2980,"v":1387},{"d":"8","u":3155,"v":1318},{"d":"8","u":3317,"v":1260},{"d":"8","u":3450,"v":1212},{"d":"8","u":3534,"v":1176},{"d":"8","u":3543,"v":1157},{"d":"8","u":3580,"v":1132},
{"d":"9","u":3008,"v":1555},{"d":"9","u":3099,"v":1519},{"d":"9","u":3187,"v":1479},{"d":"9","u":3271,"v":1449},{"d":"9","u":3355,"v":1412},{"d":"9","u":3439,"v":1376},{"d":"9","u":3524,"v":1345},{"d":"9","u":3604,"v":1312},{"d":"9","u":3629,"v":1297},{"d":"9","u":3671,"v":1282}
],
"zTicks":[{"t":"8,0x10","u":2038,"v":345},{"t":"6,0x10","u":2049,"v":675},{"t":"4,0x10","u":2063,"v":985},{"t":"2,0x10","u":2073,"v":1285}],
"zExponents":[{"t":"3","u":2179,"v":296},{"t":"3","u":2189,"v":615},{"t":"3","u":2200,"v":921},{"t":"3","u":2209,"v":1215}],
"aTicks":[{"t":"100","u":2259,"v":1421},{"t":"80","u":2420,"v":1508},{"t":"60","u":2580,"v":1604},{"t":"40","u":2754,"v":1707},{"t":"20","u":2931,"v":1820}],
"rTicks":[{"t":"0","u":3964,"v":1427},{"t":"20","u":3841,"v":1502},{"t":"40","u":3705,"v":1583},{"t":"60","u":3554,"v":1659},{"t":"80","u":3397,"v":1744},{"t":"100","u":3245,"v":1847}]
},
"hconcat":[
{"width":1452,"height":1393,
"encoding":{"x":{"field":"a","type":"quantitative","scale":{"domain":[20,100],"nice":false,"zero":false},"axis":{"values":[20,30,40,50,60,70,80,90,100],"title":"a/h","titleFontSize":75,"titleFontWeight":"normal","titleColor":"black","titlePadding":40,"labelFontSize":58,"labelColor":"black","labelFont":"Liberation Sans","titleFont":"Liberation Sans","tickSize":26,"tickWidth":4,"tickColor":"black","domainWidth":4,"domainColor":"black","grid":false,"labelPadding":20,"labelOverlap":false,"labelFlush":false}},
"y":{"field":"r","type":"quantitative","scale":{"domain":[10,100],"nice":false,"zero":false},"axis":{"values":[20,40,60,80,100],"title":"R/a","titleFontSize":75,"titleFontWeight":"normal","titleColor":"black","titlePadding":16,"labelFontSize":58,"labelColor":"black","labelFont":"Liberation Sans","titleFont":"Liberation Sans","tickSize":26,"tickWidth":4,"tickColor":"black","domainWidth":4,"domainColor":"black","grid":false,"labelPadding":22,"labelOverlap":false,"labelFlush":false}}},
"layer":[
{"data":{"name":"bands"},"mark":{"type":"line","strokeWidth":0,"clip":true},"encoding":{"fill":{"field":"l","type":"quantitative","scale":{"domain":[1240,3045,4850,6655,8310],"range":["#0000ff","#00ffff","#00ff00","#ffff00","#ff0000"],"interpolate":"rgb"},"legend":null},"detail":{"field":"l"},"order":{"value":null}}},
{"data":{"name":"contours"},"mark":{"type":"line","stroke":"#474747","strokeWidth":2.2},"encoding":{"detail":{"field":"c"},"order":{"value":null}}},
{"data":{"name":"frame"},"mark":{"type":"line","stroke":"black","strokeWidth":4},"encoding":{"order":{"value":null}}},
{"data":{"name":"contourLabels"},"mark":{"type":"text","fontSize":56,"font":"Liberation Sans","color":"black"},"encoding":{"text":{"field":"t"}}},
{"data":{"name":"titles"},"transform":[{"filter":"datum.t!='x'"}],"mark":{"type":"text","fontSize":59,"font":"Liberation Sans","fontWeight":"bold","color":"black","align":"left","baseline":"alphabetic"},"encoding":{"text":{"field":"t"}}},
{"data":{"name":"titles"},"transform":[{"filter":"datum.t=='x'"}],"mark":{"type":"text","fontSize":46,"font":"Liberation Sans","fontWeight":"bold","color":"black","align":"left","baseline":"alphabetic"},"encoding":{"text":{"field":"t"}}},
{"data":{"values":[{"t":"σ","a":83.7,"r":109.24}]},"mark":{"type":"text","fontSize":60,"font":"Liberation Serif","color":"black","align":"left","baseline":"alphabetic"},"encoding":{"text":{"field":"t"}}},
{"data":{"values":[{"t":"*","a":87.4,"r":111.6}]},"mark":{"type":"text","fontSize":56,"font":"Liberation Sans","fontWeight":"bold","color":"black","align":"left","baseline":"alphabetic"},"encoding":{"text":{"field":"t"}}}
]},
{"width":2280,"height":1393,
"encoding":{"x":{"field":"u","type":"quantitative","scale":{"domain":[1800,4080],"nice":false,"zero":false},"axis":null},"y":{"field":"v","type":"quantitative","scale":{"domain":[1627,234],"nice":false,"zero":false},"axis":null}},
"layer":[
{"data":{"name":"grid"},"mark":{"type":"line","stroke":"#cfcfcf","strokeWidth":2.5},"encoding":{"detail":{"field":"g"},"order":{"value":null}}},
{"data":{"name":"box"},"mark":{"type":"line","stroke":"#3a3a3a","strokeWidth":2.2},"encoding":{"detail":{"field":"g"},"order":{"value":null}}},
{"data":{"name":"surface"},"mark":{"type":"line","strokeWidth":1.5},"encoding":{"fill":{"field":"b","type":"quantitative","scale":{"domain":[0,6,12,18,21,24,30,36,40,42,44,48,52,54,57,60],"range":["#4a0000","#a00000","#e80000","#ff0000","#ff0800","#ff5a00","#ffee00","#a8ff00","#00ff00","#00ff90","#00ffff","#0064ff","#0000ff","#4000ff","#7400e0","#4e0068"],"interpolate":"rgb"},"legend":null},"stroke":{"field":"b","type":"quantitative","scale":{"domain":[0,6,12,18,21,24,30,36,40,42,44,48,52,54,57,60],"range":["#4a0000","#a00000","#e80000","#ff0000","#ff0800","#ff5a00","#ffee00","#a8ff00","#00ff00","#00ff90","#00ffff","#0064ff","#0000ff","#4000ff","#7400e0","#4e0068"],"interpolate":"rgb"},"legend":null},"detail":{"field":"b"},"order":{"value":null}}},
{"data":{"name":"surfaceContours"},"mark":{"type":"line","stroke":"#565656","strokeWidth":2.8},"encoding":{"detail":{"field":"d"},"order":{"value":null}}},
{"data":{"name":"mesh"},"mark":{"type":"line","stroke":"#8e8e8e","strokeWidth":2.4},"encoding":{"detail":{"field":"m"},"order":{"value":null}}},
{"data":{"name":"axes"},"mark":{"type":"line","stroke":"black","strokeWidth":3.5},"encoding":{"detail":{"field":"g"},"order":{"value":null}}},
{"data":{"name":"zTicks"},"mark":{"type":"text","fontSize":46,"fontStyle":"italic","font":"Liberation Sans","angle":340,"align":"left","baseline":"middle","color":"#1a1a1a"},"encoding":{"text":{"field":"t"}}},
{"data":{"name":"zExponents"},"mark":{"type":"text","fontSize":31,"fontStyle":"italic","font":"Liberation Sans","angle":340,"color":"#1a1a1a"},"encoding":{"text":{"field":"t"}}},
{"data":{"name":"aTicks"},"mark":{"type":"text","fontSize":48,"font":"Liberation Sans","angle":332,"color":"#1a1a1a"},"encoding":{"text":{"field":"t"}}},
{"data":{"name":"rTicks"},"mark":{"type":"text","fontSize":48,"font":"Liberation Sans","angle":30,"color":"#1a1a1a"},"encoding":{"text":{"field":"t"}}},
{"data":{"values":[{"t":"a/h","u":2486,"v":1650}]},"mark":{"type":"text","fontSize":58,"font":"Liberation Sans","angle":35,"color":"#1a1a1a"},"encoding":{"text":{"field":"t"}}},
{"data":{"values":[{"t":"R/a","u":3681,"v":1689}]},"mark":{"type":"text","fontSize":64,"font":"Liberation Sans","angle":328,"color":"#1a1a1a"},"encoding":{"text":{"field":"t"}}},
{"data":{"values":[{"t":"Nondimensionalized stress,","u":1972,"v":485}]},"mark":{"type":"text","fontSize":52,"font":"Liberation Sans","fontWeight":"bold","angle":88,"align":"left","baseline":"middle","color":"black"},"encoding":{"text":{"field":"t"}}},
{"data":{"values":[{"t":"σ","u":1992,"v":1205}]},"mark":{"type":"text","fontSize":56,"font":"Liberation Serif","angle":88,"align":"center","baseline":"middle","color":"black"},"encoding":{"text":{"field":"t"}}},
{"data":{"values":[{"t":"x","u":1985,"v":1240}]},"mark":{"type":"text","fontSize":44,"font":"Liberation Sans","fontWeight":"bold","angle":88,"align":"center","baseline":"middle","color":"black"},"encoding":{"text":{"field":"t"}}},
{"data":{"values":[{"t":"*","u":2038,"v":1238}]},"mark":{"type":"text","fontSize":46,"font":"Liberation Sans","fontWeight":"bold","angle":88,"align":"center","baseline":"middle","color":"black"},"encoding":{"text":{"field":"t"}}}
]}
]}
